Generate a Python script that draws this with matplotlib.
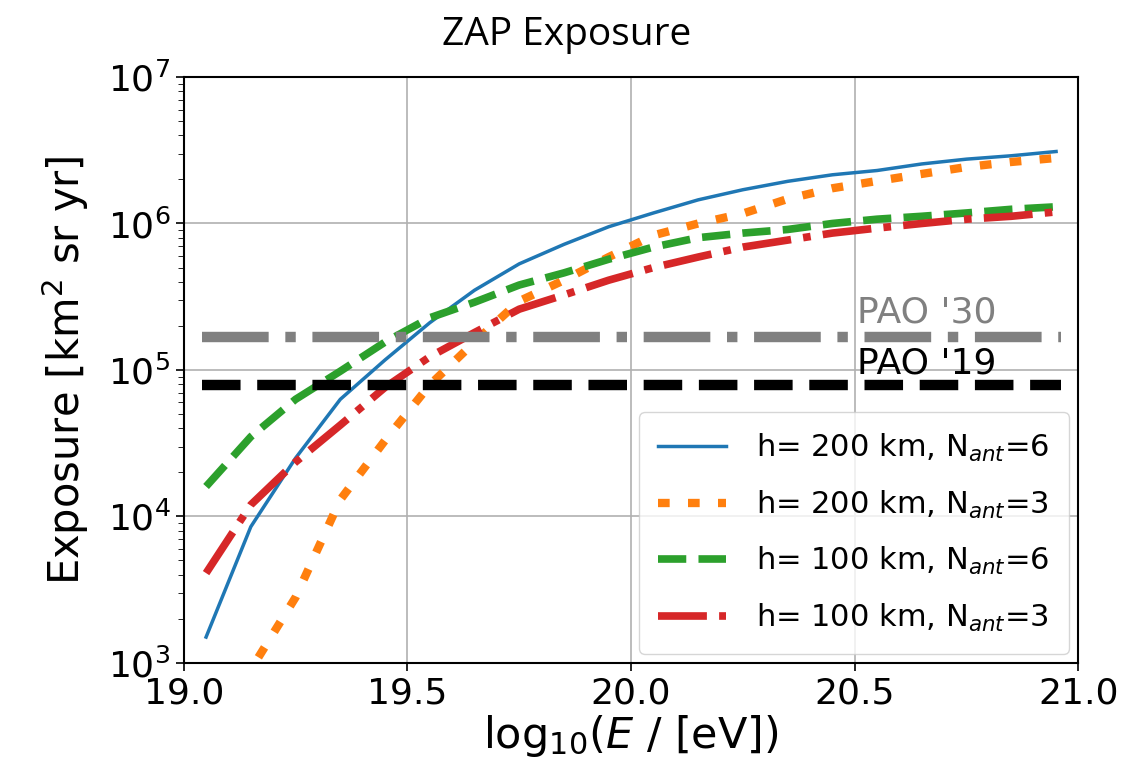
import numpy as np
import matplotlib
matplotlib.use('Agg')
from matplotlib import pyplot as plt

# energie-stuetzstellen (log10 E/eV)
logE = [19.05, 19.15, 19.25, 19.35, 19.45, 19.55, 19.65, 19.75, 19.85, 19.95,
        20.05, 20.15, 20.25, 20.35, 20.45, 20.55, 20.65, 20.75, 20.85, 20.95]

# exposure in km^2 sr yr
h200_n6 = [1.5e3, 8.5e3, 2.5e4, 6.3e4, 1.17e5, 2.1e5, 3.5e5, 5.3e5, 7.2e5, 9.5e5,
           1.18e6, 1.45e6, 1.7e6, 1.94e6, 2.15e6, 2.3e6, 2.55e6, 2.75e6, 2.9e6, 3.1e6]
h200_n3 = [2.0e2, 9.0e2, 2.8e3, 1.3e4, 3.3e4, 7.9e4, 1.55e5, 2.95e5, 4.1e5, 5.9e5,
           8.3e5, 1.0e6, 1.17e6, 1.47e6, 1.74e6, 1.95e6, 2.18e6, 2.43e6, 2.63e6, 2.8e6]
h100_n6 = [1.6e4, 3.5e4, 6.3e4, 9.8e4, 1.55e5, 2.27e5, 2.9e5, 3.8e5, 4.6e5, 5.7e5,
           6.9e5, 8.0e5, 8.6e5, 9.1e5, 1.0e6, 1.07e6, 1.12e6, 1.18e6, 1.25e6, 1.3e6]
h100_n3 = [4.1e3, 1.2e4, 2.35e4, 4.2e4, 7.6e4, 1.23e5, 1.8e5, 2.6e5, 3.25e5, 4.1e5,
           5.0e5, 5.9e5, 6.9e5, 7.7e5, 8.6e5, 9.3e5, 1.0e6, 1.07e6, 1.12e6, 1.2e6]

labels = [r'h= 200 km, N$_{ant}$=6', r'h= 200 km, N$_{ant}$=3',
          r'h= 100 km, N$_{ant}$=6', r'h= 100 km, N$_{ant}$=3']

# Auger referenzwerte
pao_x = [19.04, 20.96]
pao30 = 1.68e5
pao19 = 7.9e4

fig = plt.figure(figsize=(11.34, 7.78), dpi=100)
ax = fig.add_axes([0.162, 0.148, 0.789, 0.753])

ax.plot(logE, h200_n6, color='tab:blue', lw=2.5, ls='-', label=labels[0])
ax.plot(logE, h200_n3, color='tab:orange', lw=6, ls=(0, (1.4, 2.2)), label=labels[1])
ax.plot(logE, h100_n6, color='tab:green', lw=5.5, ls='--', label=labels[2])
ax.plot(logE, h100_n3, color='tab:red', lw=5.5, ls='-.', label=labels[3])

ax.plot(pao_x, [pao30, pao30], color='gray', lw=7.5, ls='-.')
ax.plot(pao_x, [pao19, pao19], color='black', lw=7.5, ls='--')
ax.text(20.505, pao30 * 1.25, "PAO '30", color='gray', fontsize=26, va='baseline')
ax.text(20.505, pao19 * 1.2, "PAO '19", color='black', fontsize=26, va='baseline')

ax.set_yscale('log')
ax.set_xlim(19.0, 21.0)
ax.set_ylim(1e3, 1e7)
ax.set_xticks([19.0, 19.5, 20.0, 20.5, 21.0])
ax.tick_params(axis='both', labelsize=26, length=6, width=1.2)
ax.tick_params(axis='y', which='minor', length=4)
ax.grid(True, which='major', color='#b0b0b0', lw=1.2)
ax.set_axisbelow(True)
for s in ax.spines.values():
  s.set_linewidth(1.5)

ax.set_xlabel(r'log$_{10}$($E$ / [eV])', fontsize=31, labelpad=2)
ax.set_ylabel(r'Exposure [km$^2$ sr yr]', fontsize=30, labelpad=12)

ax.legend(loc='lower right', fontsize=22, handlelength=2.2, labelspacing=0.8,
          borderpad=0.65, handletextpad=1.0, borderaxespad=0.3)

fig.text(0.5, 0.955, 'ZAP Exposure', ha='center', va='center', fontsize=28,
         family=['Liberation Sans Narrow', 'Open Sans', 'DejaVu Sans'])

fig.savefig('out.png', dpi=100)
